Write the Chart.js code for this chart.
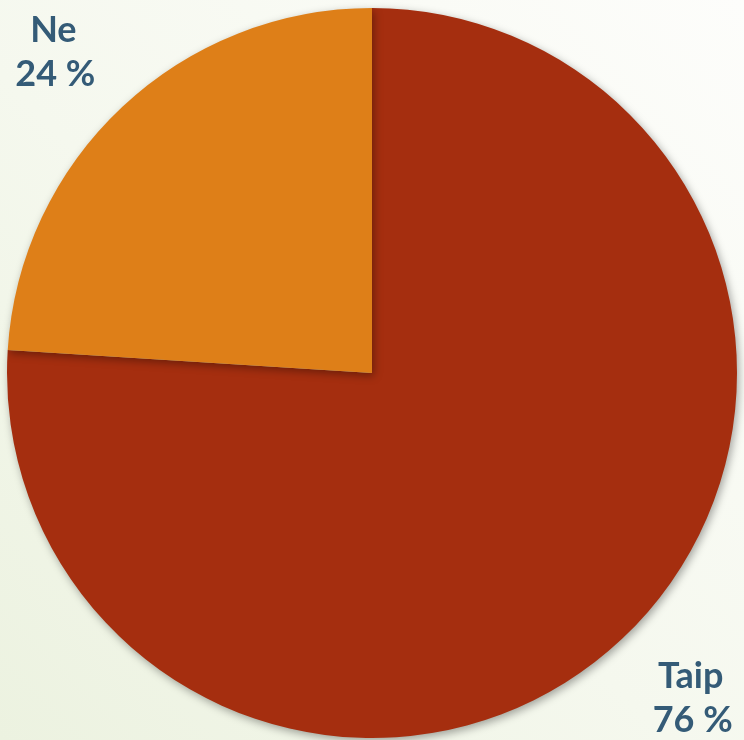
<!DOCTYPE html>
<html lang="lt">
<head>
  <meta charset="UTF-8" />
  <title>Taip / Ne</title>
  <script src="https://cdn.jsdelivr.net/npm/chart.js"></script>
  <style>
    html, body {
      margin: 0;
      padding: 0;
      width: 744px;
      height: 740px;
      overflow: hidden;
    }
    body {
      background: linear-gradient(to top right, #ecf2e0 0%, #f5f8ee 45%, #fdfdfb 100%);
    }
    .wrap {
      position: relative;
      width: 744px;
      height: 740px;
    }
  </style>
</head>
<body>
  <div class="wrap">
    <canvas id="pie"></canvas>
  </div>

  <script>
    // Data
    const labels = ['Taip', 'Ne'];
    const values = [76, 24];
    const colors = ['#a52e0f', '#de7f18'];

    // soft shadow under the pie
    const shadowPlugin = {
      id: 'shadow',
      beforeDatasetsDraw(chart) {
        const ctx = chart.ctx;
        ctx.save();
        ctx.shadowColor = 'rgba(0,0,0,0.35)';
        ctx.shadowBlur = 9;
        ctx.shadowOffsetX = 2;
        ctx.shadowOffsetY = 3;
      },
      afterDatasetsDraw(chart) {
        chart.ctx.restore();
      }
    };

    // labels outside the slices, placed on the diagonal of the slice's quadrant
    const outLabels = {
      id: 'outLabels',
      afterDraw(chart) {
        const ctx = chart.ctx;
        const meta = chart.getDatasetMeta(0);
        ctx.save();
        ctx.fillStyle = '#345b77';
        ctx.font = 'bold 36px Lato, "DejaVu Sans", sans-serif';
        ctx.textAlign = 'center';
        ctx.textBaseline = 'alphabetic';
        meta.data.forEach((arc, i) => {
          const p = arc.getProps(['x', 'y', 'startAngle', 'endAngle', 'outerRadius'], true);
          const mid = (p.startAngle + p.endAngle) / 2;
          const x = p.x + Math.sign(Math.cos(mid)) * p.outerRadius * 0.873;
          const y = p.y + Math.sign(Math.sin(mid)) * p.outerRadius * 0.885;
          ctx.fillText(labels[i], x, y - 8);
          ctx.fillText(values[i] + ' %', x + 2, y + 36);
        });
        ctx.restore();
      }
    };

    new Chart(document.getElementById('pie'), {
      type: 'pie',
      data: {
        labels: labels,
        datasets: [{
          data: values,
          backgroundColor: colors,
          borderWidth: 0
        }]
      },
      options: {
        responsive: true,
        maintainAspectRatio: false,
        animation: false,
        radius: 365,
        layout: { padding: { top: 6, bottom: 0 } },
        events: [],
        plugins: {
          legend: { display: false },
          tooltip: { enabled: false }
        }
      },
      plugins: [shadowPlugin, outLabels]
    });
  </script>
</body>
</html>
